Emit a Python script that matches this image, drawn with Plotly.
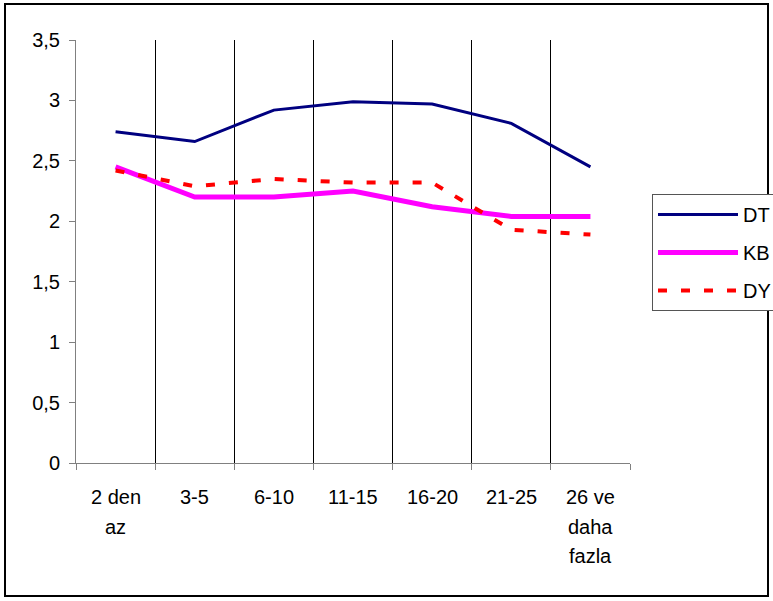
import plotly.graph_objects as go

label_lines = [["2 den", "az"], ["3-5"], ["6-10"], ["11-15"], ["16-20"], ["21-25"],
               ["26 ve", "daha", "fazla"]]
categories = [" ".join(lines) for lines in label_lines]
dt_values = [2.74, 2.66, 2.92, 2.99, 2.97, 2.81, 2.45]
kb_values = [2.45, 2.20, 2.20, 2.25, 2.12, 2.04, 2.04]
dy_values = [2.42, 2.29, 2.35, 2.32, 2.32, 1.93, 1.89]

FONT = "Liberation Sans, Arial, sans-serif"
FS = 20

fig = go.Figure()
fig.add_trace(go.Scatter(x=categories, y=dt_values, name="DT", mode="lines", legendgroup="dt",
                         line=dict(color="#000080", width=3)))
fig.add_trace(go.Scatter(x=categories, y=kb_values, name="KB", mode="lines", legendgroup="kb",
                         line=dict(color="#FF00FF", width=5)))
fig.add_trace(go.Scatter(x=categories, y=dy_values, name="DY", mode="lines", legendgroup="dy",
                         line=dict(color="#FF0000", width=4, dash="9px,14px")))

L, R, T, B = 76, 143, 40, 138
W, H = 773, 601
pw, ph = W - L - R, H - T - B

fig.update_layout(
    width=W, height=H,
    margin=dict(l=L, r=R, t=T, b=B, autoexpand=False),
    paper_bgcolor="white", plot_bgcolor="white",
    separators=", ",
    font=dict(family=FONT, size=FS, color="black"),
    showlegend=True,
    legend=dict(
        x=(652 - L) / pw, y=(H - B - 194) / ph, xanchor="left", yanchor="top",
        bordercolor="#555555", borderwidth=1, bgcolor="white",
        font=dict(family=FONT, size=FS, color="black"),
        itemwidth=80, tracegroupgap=9,
    ),
    xaxis=dict(
        type="category", range=[-0.5, 6.5], tickson="boundaries",
        showgrid=True, gridcolor="#000000", gridwidth=1,
        showline=True, linecolor="#808080", linewidth=1,
        ticks="outside", ticklen=6, tickcolor="#808080",
        showticklabels=False,
        zeroline=False, fixedrange=True,
    ),
    yaxis=dict(
        range=[0, 3.5], dtick=0.5, tick0=0,
        showgrid=False, zeroline=False,
        showline=True, linecolor="#808080", linewidth=1,
        ticks="outside", ticklen=6, tickcolor="#808080",
        ticklabelstandoff=5,
    ),
)

# category labels, one line at a time below the axis
for cat, lines in zip(categories, label_lines):
    for i, line in enumerate(lines):
        fig.add_annotation(x=cat, xref="x", y=0, yref="paper", text=line,
                           showarrow=False, yanchor="middle", xanchor="center",
                           yshift=-34 - 29.5 * i,
                           font=dict(family=FONT, size=FS, color="black"))

# outer frame around the chart
fig.add_shape(type="rect", xref="paper", yref="paper",
              x0=(5 - L) / pw, x1=(768 - L) / pw,
              y0=(H - B - 596) / ph, y1=(H - B - 4) / ph,
              line=dict(color="black", width=2), fillcolor="rgba(0,0,0,0)",
              layer="below")

fig.write_html("out.html")
